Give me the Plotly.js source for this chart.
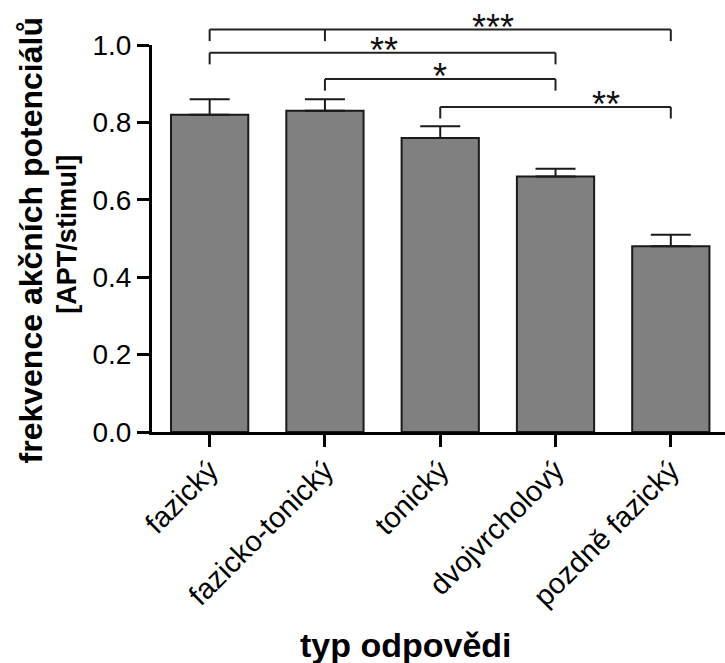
<!DOCTYPE html>
<html>
<head>
<meta charset="utf-8">
<script src="https://cdn.plot.ly/plotly-3.0.1.min.js"></script>
<style>html,body{margin:0;padding:0;background:#fff;}#chart{width:725px;height:663px;}</style>
</head>
<body>
<div id="chart"></div>
<script>
// ---- data ----
const categories = ['fazický', 'fazicko-tonický', 'tonický', 'dvojvrcholový', 'pozdně fazický'];
const means = [0.82, 0.83, 0.76, 0.66, 0.48];
const sem = [0.04, 0.03, 0.03, 0.02, 0.03];
const yTicks = [0.0, 0.2, 0.4, 0.6, 0.8, 1.0];

// significance brackets (category indices and bracket height in data units)
const bracketFrom = [0, 0, 1, 2];
const bracketTo = [4, 3, 3, 4];
const bracketExtraDrop = [1, null, null, null];
const bracketLevel = [1.04, 0.98, 0.912, 0.84];
const bracketLabel = ['***', '**', '*', '**'];
const bracketLabelX = [2.46, 1.51, 2.0, 3.44];
const dropLen = 0.03;

const FONT = 'Liberation Sans, Arial, Helvetica, sans-serif';
const yRange = [0, 1.0];
const toPaper = v => (v - yRange[0]) / (yRange[1] - yRange[0]);
const idx = categories.map((c, i) => i);

const W = 725, H = 663, ML = 152, MR = 0, MT = 45, MB = 231;
const plotW = W - ML - MR, plotH = H - MT - MB;
const pxX = px => (px - ML) / plotW;
const pxY = py => (H - MB - py) / plotH;

const bars = {
  type: 'bar',
  x: idx,
  y: means,
  width: 0.67,
  marker: {color: '#808080', line: {color: '#1a1a1a', width: 2}},
  error_y: {type: 'data', symmetric: false, array: sem, arrayminus: sem.map(() => 0),
            color: '#1a1a1a', thickness: 2, width: 20},
  hoverinfo: 'skip'
};

const shapes = [];
const lineStyle = {color: '#222', width: 2};
bracketFrom.forEach((f, i) => {
  const t = bracketTo[i], lv = toPaper(bracketLevel[i]), lo = toPaper(bracketLevel[i] - dropLen);
  shapes.push({type: 'line', xref: 'x', yref: 'paper', x0: f, x1: t, y0: lv, y1: lv, line: lineStyle});
  shapes.push({type: 'line', xref: 'x', yref: 'paper', x0: f, x1: f, y0: lo, y1: lv, line: lineStyle});
  shapes.push({type: 'line', xref: 'x', yref: 'paper', x0: t, x1: t, y0: lo, y1: lv, line: lineStyle});
  if (bracketExtraDrop[i] !== null) {
    const m = bracketExtraDrop[i];
    shapes.push({type: 'line', xref: 'x', yref: 'paper', x0: m, x1: m, y0: lo, y1: lv, line: lineStyle});
  }
});

const annotations = bracketLabel.map((lab, i) => ({
  x: bracketLabelX[i], y: toPaper(bracketLevel[i]), xref: 'x', yref: 'paper',
  text: lab, showarrow: false, xanchor: 'center', yanchor: 'bottom', yshift: -20,
  font: {family: FONT, size: 36, color: '#111'}
}));
annotations.push({
  x: pxX(31), y: 0.495, xref: 'paper', yref: 'paper', textangle: -90,
  text: '<b>frekvence akčních potenciálů</b>', showarrow: false,
  xanchor: 'center', yanchor: 'middle',
  font: {family: FONT, size: 32, color: '#000'}
});
annotations.push({
  x: pxX(67), y: 0.51, xref: 'paper', yref: 'paper', textangle: -90,
  text: '<b>[APT/stimul]</b>', showarrow: false,
  xanchor: 'center', yanchor: 'middle',
  font: {family: FONT, size: 27, color: '#000'}
});
annotations.push({
  x: pxX(406), y: pxY(645), xref: 'paper', yref: 'paper',
  text: '<b>typ odpovědi</b>', showarrow: false, xanchor: 'center', yanchor: 'middle',
  font: {family: FONT, size: 34, color: '#000'}
});

const layout = {
  width: W, height: H,
  margin: {l: ML, r: MR, t: MT, b: MB, pad: 0},
  paper_bgcolor: '#fff', plot_bgcolor: '#fff',
  showlegend: false,
  xaxis: {
    range: [-0.5, 4.47], tickmode: 'array', tickvals: idx, ticktext: categories,
    tickangle: -45, ticks: 'outside', ticklen: 12, tickwidth: 3, tickcolor: '#000',
    ticklabelstandoff: -5,
    showline: true, linewidth: 3, linecolor: '#000', showgrid: false, zeroline: false,
    tickfont: {family: FONT, size: 29, color: '#000'}
  },
  yaxis: {
    range: yRange, tickmode: 'array', tickvals: yTicks, tickformat: '.1f',
    ticks: 'outside', ticklen: 12, tickwidth: 3, tickcolor: '#000',
    showline: true, linewidth: 3, linecolor: '#000', showgrid: false, zeroline: false,
    tickfont: {family: FONT, size: 28, color: '#000'}
  },
  shapes: shapes,
  annotations: annotations
};

Plotly.newPlot('chart', [bars], layout, {displayModeBar: false, staticPlot: true});
</script>
</body>
</html>
